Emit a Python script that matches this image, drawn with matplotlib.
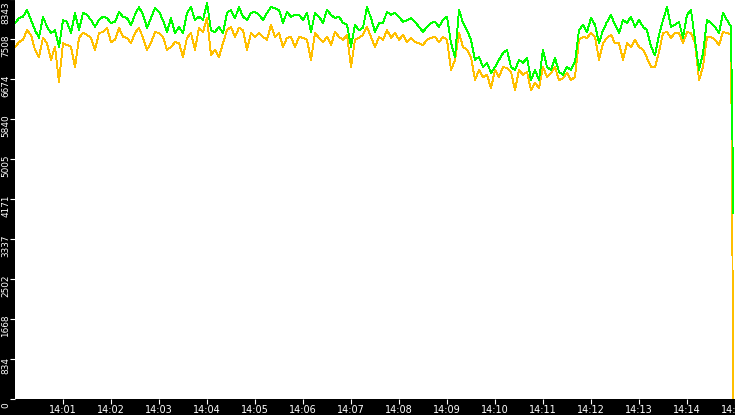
import matplotlib
matplotlib.use("Agg")
import matplotlib.pyplot as plt
import matplotlib.transforms as mtrans
import numpy as np

# time in seconds after 14:00:00, samples every 5 s
sample_step_s = 5
green_vals = [
    7850, 7950, 7980, 8120, 7910, 7700, 7540, 7980, 7770, 7640, 7700, 7350, 7910, 7870, 7640, 8060,
    7700, 8060, 8020, 7910, 7770, 7910, 7980, 7950, 7850, 7870, 8080, 7980, 7950, 7810, 8020, 8180,
    8020, 7750, 7950, 8160, 8080, 7910, 7660, 7950, 7640, 7770, 7640, 8060, 8180, 7910, 7980, 7910,
    8270, 7700, 7660, 7770, 7640, 8060, 8120, 7950, 8180, 7980, 7910, 8060, 8080, 8020,
    7910, 8060, 8180, 8160, 8120, 7850, 8080, 7980, 8020, 8020, 7910, 8060, 7660, 8060, 7980, 7850,
    8120, 8020, 7950, 7980, 7850, 7810, 7350, 7810, 7700, 7750, 8180, 7950, 7660, 7850,
    7850, 8080, 8020, 8060, 7980, 7870, 7910, 7950, 7870, 7770, 7660, 7770, 7850, 7870, 7770, 7910,
    7980, 7430, 7140, 8120, 7850, 7700, 7500, 7080, 7140, 6930, 7020, 6810, 6930, 7080,
    7220, 7290, 6930, 6870, 7080, 7020, 7120, 6660, 6870, 6660, 7290, 6930, 6870, 7120, 6830, 6770,
    6930, 6870, 7040, 7700, 7810, 7660, 7950, 7810, 7430, 7700, 7870, 8020, 7810, 7640,
    7910, 7850, 7980, 7770, 7910, 7770, 7700, 7350, 7180, 7600, 7910, 8180, 7770, 7810, 7870, 7540,
    8020, 8120, 7500, 6870, 7220, 7910, 7850, 7770, 7640, 8060, 7910, 7770,
]
orange_vals = [
    7350, 7450, 7500, 7700, 7600, 7290, 7140, 7540, 7430, 7080, 7350, 6620, 7430, 7390, 7350, 6930,
    7540, 7640, 7600, 7540, 7290, 7640, 7660, 7750, 7450, 7500, 7750, 7560, 7540, 7430, 7640, 7750,
    7540, 7290, 7430, 7660, 7640, 7560, 7290, 7350, 7450, 7430, 7140, 7540, 7640, 7290, 7750, 7660,
    7950, 7180, 7290, 7140, 7430, 7700, 7770, 7560, 7750, 7700, 7290, 7640, 7560, 7640,
    7560, 7500, 7810, 7560, 7640, 7350, 7540, 7560, 7350, 7560, 7540, 7500, 7080, 7640, 7540, 7450,
    7560, 7390, 7660, 7560, 7500, 7600, 6930, 7500, 7540, 7600, 7770, 7560, 7350, 7560,
    7500, 7700, 7540, 7640, 7500, 7600, 7450, 7540, 7450, 7430, 7390, 7500, 7540, 7560, 7450, 7560,
    7500, 6870, 7080, 7640, 7350, 7290, 7140, 6660, 6870, 6720, 6770, 6490, 6870, 6720,
    6930, 6910, 6830, 6450, 6870, 6770, 6830, 6450, 6600, 6490, 6930, 6720, 6810, 6930, 6660, 6700,
    6810, 6660, 6720, 7500, 7560, 7540, 7640, 7560, 7080, 7430, 7540, 7600, 7430, 7430,
    7080, 7430, 7350, 7500, 7350, 7290, 7120, 6930, 6930, 7240, 7640, 7660, 7540, 7640, 7640, 7430,
    7660, 7640, 7430, 6660, 6930, 7560, 7560, 7500, 7390, 7660, 7640, 7600,
]
end_time_s = 898
green_end = 3890
orange_end = 0

y_ticks = [0, 834, 1668, 2502, 3337, 4171, 5005, 5840, 6674, 7508, 8343]
x_ticks_s = [60, 120, 180, 240, 300, 360, 420, 480, 540, 600, 660, 720, 780, 840, 900]
x_labels = ["14:01", "14:02", "14:03", "14:04", "14:05", "14:06", "14:07", "14:08",
            "14:09", "14:10", "14:11", "14:12", "14:13", "14:14", "14:15"]

W, H = 735, 415
fig = plt.figure(figsize=(W / 100, H / 100), dpi=100, facecolor="black")
left, right, top, bottom = 15, 735, -0.7, 399.3
ax = fig.add_axes([left / W, (H - bottom) / H, (right - left) / W, (bottom - top) / H])
ax.set_facecolor("white")

t_g = list(np.arange(len(green_vals)) * sample_step_s) + [end_time_s]
t_o = list(np.arange(len(orange_vals)) * sample_step_s) + [end_time_s]

ax.plot(t_o, orange_vals + [orange_end], color="#ffbf00", lw=0.65, antialiased=False)
ax.plot(t_g, green_vals + [green_end], color="#00ff00", lw=0.65, antialiased=False)

ax.set_xlim(0, 900)
ax.set_ylim(0, 8343)
for s in ax.spines.values():
    s.set_visible(False)

ax.set_xticks(x_ticks_s)
ax.set_xticklabels(x_labels, color="white", fontsize=7, family="DejaVu Sans")
ax.tick_params(axis="x", direction="out", length=3.5, width=0.8, color="white", pad=0.3)

ax.set_yticks(y_ticks)
ax.set_yticklabels([])
ax.tick_params(axis="y", direction="out", length=3.5, width=0.8, color="white")

for v in y_ticks:
    if v == y_ticks[-1]:
        off = mtrans.ScaledTranslation(-9 / 100, -2 / 100, fig.dpi_scale_trans)
        ax.text(0, 1.0, str(v), transform=ax.transAxes + off,
                rotation=90, ha="center", va="top", color="white", fontsize=6.4,
                family="DejaVu Sans", clip_on=False)
    else:
        off = mtrans.ScaledTranslation(-9 / 100, -6 / 100, fig.dpi_scale_trans)
        ax.text(0, v, str(v), transform=ax.get_yaxis_transform() + off,
                rotation=90, ha="center", va="center", color="white", fontsize=6.4,
                family="DejaVu Sans", clip_on=False)

fig.savefig("out.png", dpi=100, facecolor="black")
